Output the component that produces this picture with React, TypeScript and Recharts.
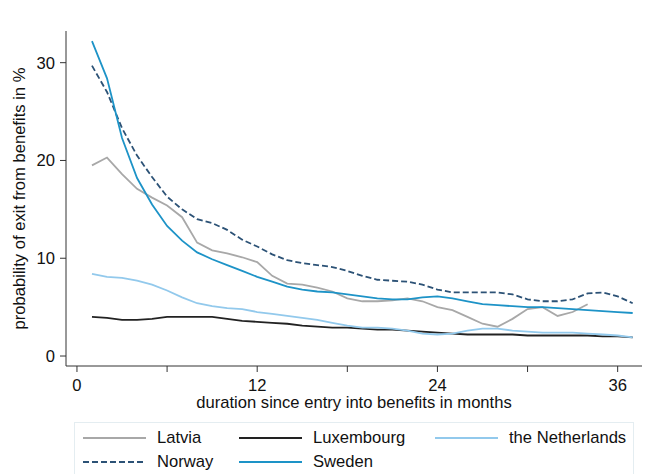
import { LineChart, Line, XAxis, YAxis, Label } from "recharts";

const months = [
  1, 2, 3, 4, 5, 6, 7, 8, 9, 10, 11, 12, 13, 14, 15, 16, 17, 18, 19, 20, 21, 22, 23, 24, 25, 26, 27, 28, 29, 30,
  31, 32, 33, 34, 35, 36, 37,
];

const latvia = [
  19.5, 20.3, 18.6, 17.1, 16.2, 15.4, 14.2, 11.6, 10.8, 10.5, 10.1, 9.6, 8.2, 7.4, 7.3, 7.0, 6.6, 5.9, 5.6, 5.6,
  5.7, 5.9, 5.6, 5.0, 4.7, 4.0, 3.3, 3.0, 3.8, 4.8, 5.0, 4.1, 4.5, 5.3, null, null, null,
];
const luxembourg = [
  4.0, 3.9, 3.7, 3.7, 3.8, 4.0, 4.0, 4.0, 4.0, 3.8, 3.6, 3.5, 3.4, 3.3, 3.1, 3.0, 2.9, 2.9, 2.8, 2.7, 2.7, 2.6,
  2.5, 2.4, 2.3, 2.2, 2.2, 2.2, 2.2, 2.1, 2.1, 2.1, 2.1, 2.1, 2.0, 2.0, 1.9,
];
const netherlands = [
  8.4, 8.1, 8.0, 7.7, 7.3, 6.7, 6.0, 5.4, 5.1, 4.9, 4.8, 4.5, 4.3, 4.1, 3.9, 3.7, 3.4, 3.1, 2.9, 2.9, 2.8, 2.6,
  2.3, 2.2, 2.3, 2.6, 2.8, 2.8, 2.6, 2.5, 2.4, 2.4, 2.4, 2.3, 2.2, 2.1, 1.9,
];
const norway = [
  29.7, 27.0, 23.3, 20.5, 18.3, 16.3, 15.0, 14.0, 13.6, 12.9, 11.9, 11.2, 10.4, 9.8, 9.5, 9.3, 9.1, 8.7, 8.2, 7.8,
  7.7, 7.6, 7.3, 6.8, 6.5, 6.5, 6.5, 6.5, 6.3, 5.8, 5.6, 5.6, 5.8, 6.4, 6.5, 6.1, 5.4,
];
const sweden = [
  32.2, 28.4, 22.3, 18.2, 15.5, 13.3, 11.8, 10.6, 9.9, 9.3, 8.7, 8.1, 7.6, 7.1, 6.8, 6.6, 6.5, 6.3, 6.1, 5.9, 5.8,
  5.8, 6.0, 6.1, 5.9, 5.6, 5.3, 5.2, 5.1, 5.0, 5.0, 4.9, 4.8, 4.7, 4.6, 4.5, 4.4,
];

const xTicks = [0, 6, 12, 18, 24, 30, 36];
const yTicks = [0, 10, 20, 30];

const data = months.map((m, i) => ({
  month: m,
  latvia: latvia[i],
  luxembourg: luxembourg[i],
  netherlands: netherlands[i],
  norway: norway[i],
  sweden: sweden[i],
}));

const series = [
  { key: "latvia", name: "Latvia", color: "#a8a8a8", dash: undefined, col: 0, row: 0 },
  { key: "luxembourg", name: "Luxembourg", color: "#222222", dash: undefined, col: 1, row: 0 },
  { key: "netherlands", name: "the Netherlands", color: "#92c9ec", dash: undefined, col: 2, row: 0 },
  { key: "norway", name: "Norway", color: "#2c5276", dash: "6 3", col: 0, row: 1 },
  { key: "sweden", name: "Sweden", color: "#1d93c7", dash: undefined, col: 1, row: 1 },
];

const font = "'Liberation Sans', Arial, sans-serif";
const fs = 16.6;
const legendCols = [8, 164, 360];
const legendRows = [15, 39];

export default function App() {
  return (
    <div style={{ position: "absolute", left: 0, top: 0, width: 646, height: 474, background: "#fff", fontFamily: font, overflow: "hidden" }}>
      <LineChart width={646} height={474} data={data} margin={{ top: 31, right: 4, bottom: 64, left: 0 }}>
        <XAxis
          dataKey="month"
          type="number"
          domain={[-0.73, 37.62]}
          allowDataOverflow
          ticks={xTicks}
          interval={0}
          tickFormatter={(v: number) => (v % 12 === 0 ? String(v) : "")}
          height={44}
          tickSize={6}
          tickMargin={7}
          stroke="#333"
          tick={{ fill: "#111", fontSize: fs, fontFamily: font }}
        >
          <Label
            value="duration since entry into benefits in months"
            position="insideBottom"
            offset={2}
            style={{ fill: "#111", fontSize: fs, fontFamily: font }}
          />
        </XAxis>
        <YAxis
          type="number"
          domain={[-1.02, 33.24]}
          allowDataOverflow
          ticks={yTicks}
          interval={0}
          width={66}
          tickSize={6}
          tickMargin={5}
          stroke="#333"
          tick={{ fill: "#111", fontSize: fs, fontFamily: font }}
        >
          <Label
            value="probability of exit from benefits in %"
            angle={-90}
            position="insideLeft"
            offset={19}
            style={{ fill: "#111", fontSize: fs, fontFamily: font, textAnchor: "middle" }}
          />
        </YAxis>
        {series.map((s) => (
          <Line
            key={s.key}
            dataKey={s.key}
            name={s.name}
            stroke={s.color}
            strokeWidth={1.8}
            strokeDasharray={s.dash}
            dot={false}
            activeDot={false}
            isAnimationActive={false}
            type="linear"
          />
        ))}
      </LineChart>
      <div
        style={{
          position: "absolute",
          left: 74,
          top: 422,
          width: 560,
          height: 70,
          border: "1px solid #e4edf1",
          boxSizing: "border-box",
        }}
      >
        {series.map((s) => (
          <div
            key={s.key}
            style={{
              position: "absolute",
              left: legendCols[s.col],
              top: legendRows[s.row] - 10,
              height: 20,
              display: "flex",
              alignItems: "center",
              whiteSpace: "nowrap",
            }}
          >
            <svg width={63} height={20}>
              <line x1={0} y1={10} x2={63} y2={10} stroke={s.color} strokeWidth={2} strokeDasharray={s.dash} />
            </svg>
            <span style={{ marginLeft: 11, fontSize: fs, color: "#111", lineHeight: "20px" }}>{s.name}</span>
          </div>
        ))}
      </div>
    </div>
  );
}
